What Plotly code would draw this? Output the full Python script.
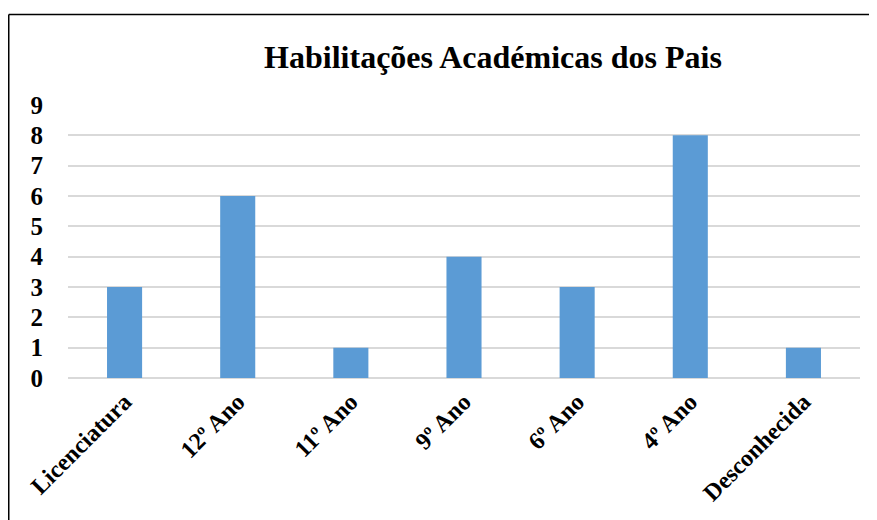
import plotly.graph_objects as go

categories = ["Licenciatura", "12º Ano", "11º Ano", "9º Ano", "6º Ano", "4º Ano", "Desconhecida"]
values = [3, 6, 1, 4, 3, 8, 1]
y_ticks = list(range(0, 10))

# page body has an 8px margin, so the figure starts at (8, 8)
W, H = 869, 512
L, R, T, B = 60, 17, 97, 142
PW, PH = W - L - R, H - T - B

fig = go.Figure(go.Bar(
    x=categories, y=values,
    marker=dict(color="#5B9BD5", line=dict(width=0)),
    width=0.31,
))

font_fam = "Liberation Serif, Times New Roman, serif"

fig.update_layout(
    width=W, height=H,
    margin=dict(l=L, r=R, t=T, b=B, autoexpand=False),
    paper_bgcolor="white", plot_bgcolor="white",
    showlegend=False,
    title=dict(
        text="<b>Habilitações Académicas dos Pais</b>",
        font=dict(family=font_fam, size=32, color="black"),
        x=485 / W, xanchor="center",
        y=1 - 49 / H, yanchor="middle",
    ),
)

fig.update_xaxes(
    tickangle=-45,
    tickfont=dict(family=font_fam, size=24, color="black", weight="bold"),
    showgrid=False, showline=False, zeroline=False,
    ticks="", ticklabelstandoff=4,
)
fig.update_yaxes(
    range=[0, 9], tickvals=y_ticks,
    tickfont=dict(family=font_fam, size=25, color="black", weight="bold"),
    showgrid=True, gridcolor="#D9D9D9", gridwidth=1.5,
    zeroline=True, zerolinecolor="#D9D9D9", zerolinewidth=1.5,
    showline=False, ticks="", ticklabelstandoff=24,
)

# chart border (top and left edges visible)
def px_x(p):
    return (p - L) / PW

def px_y(p):
    return (H - B - p) / PH

fig.add_shape(type="line", xref="paper", yref="paper",
              x0=px_x(0.75), x1=px_x(W + 5), y0=px_y(6.5), y1=px_y(6.5),
              line=dict(color="black", width=1.5))
fig.add_shape(type="line", xref="paper", yref="paper",
              x0=px_x(0.75), x1=px_x(0.75), y0=px_y(6.5), y1=px_y(H + 5),
              line=dict(color="black", width=1.5))

fig.write_html("out.html")
